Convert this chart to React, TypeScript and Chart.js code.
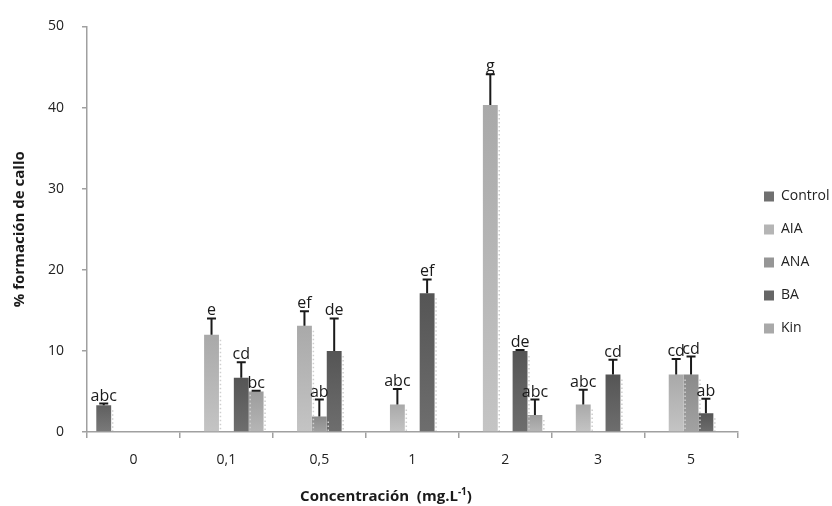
import React, { useEffect, useRef } from 'react';
import { Chart, registerables } from 'chart.js';

Chart.register(...registerables);

const categories = ['0', '0,1', '0,5', '1', '2', '3', '5'];
const seriesNames = ['Control', 'AIA', 'ANA', 'BA', 'Kin'];

const controlValues = [3.3, 0, 0, 0, 0, 0, 0];
const aiaValues = [0, 12.0, 13.1, 3.4, 40.3, 3.4, 7.1];
const anaValues = [0, 0, 1.9, 0, 0, 0, 7.1];
const baValues = [0, 6.7, 10.0, 17.1, 10.0, 7.1, 2.3];
const kinValues = [0, 5.0, 0, 0, 2.1, 0, 0];

const controlErrors = [0.2, 0, 0, 0, 0, 0, 0];
const aiaErrors = [0, 2.0, 1.8, 1.9, 3.8, 1.8, 1.9];
const anaErrors = [0, 0, 2.1, 0, 0, 0, 2.2];
const baErrors = [0, 1.9, 4.0, 1.7, 0.1, 1.8, 1.8];
const kinErrors = [0, 0.1, 0, 0, 1.9, 0, 0];

const controlLetters = ['abc', '', '', '', '', '', ''];
const aiaLetters = ['', 'e', 'ef', 'abc', 'g', 'abc', 'cd'];
const anaLetters = ['', '', 'ab', '', '', '', 'cd'];
const baLetters = ['', 'cd', 'de', 'ef', 'de', 'cd', 'ab'];
const kinLetters = ['', 'bc', '', '', 'abc', '', ''];

const yTickValues = [0, 10, 20, 30, 40, 50];

const seriesValues = [controlValues, aiaValues, anaValues, baValues, kinValues];
const seriesErrors = [controlErrors, aiaErrors, anaErrors, baErrors, kinErrors];
const seriesLetters = [controlLetters, aiaLetters, anaLetters, baLetters, kinLetters];
const topColors = ['#5f5f5f', '#a9a9a9', '#8a8a8a', '#555555', '#9c9c9c'];
const bottomColors = ['#7a7a7a', '#c4c4c4', '#a2a2a2', '#6e6e6e', '#b6b6b6'];
const legendColors = ['#707070', '#b5b5b5', '#969696', '#666666', '#a9a9a9'];

const FONT = "'Open Sans', 'DejaVu Sans', sans-serif";

const makeFill = (si: number) => (ctx: any) => {
  const chart = ctx.chart;
  const ys = chart.scales && chart.scales.y;
  if (ctx.type !== 'data' || !ys) return legendColors[si];
  const v = seriesValues[si][ctx.dataIndex] || 0;
  const top = ys.getPixelForValue(v);
  const base = ys.getPixelForValue(0);
  if (!isFinite(top) || !isFinite(base) || base - top < 1) return legendColors[si];
  const g = chart.ctx.createLinearGradient(0, top, 0, base);
  g.addColorStop(0, topColors[si]);
  g.addColorStop(1, bottomColors[si]);
  return g;
};

const shadowPlugin = {
  id: 'barShadowTexture',
  afterDatasetsDraw(chart: any) {
    const ctx = chart.ctx;
    const ys = chart.scales.y;
    ctx.save();
    ctx.strokeStyle = '#cfcfcf';
    ctx.lineWidth = 1.5;
    ctx.setLineDash([1.5, 2.5]);
    chart.data.datasets.forEach((ds: any, di: number) => {
      const meta = chart.getDatasetMeta(di);
      meta.data.forEach((bar: any, i: number) => {
        const v = seriesValues[di][i];
        if (!v) return;
        const xr = bar.x + bar.width / 2 + 1.5;
        const top = ys.getPixelForValue(v) + 5;
        const base = ys.getPixelForValue(0) - 1;
        if (base - top < 2) return;
        ctx.beginPath();
        ctx.moveTo(xr, top);
        ctx.lineTo(xr, base);
        ctx.stroke();
      });
    });
    ctx.restore();
  },
};

const errorBarPlugin = {
  id: 'errorBarsLetters',
  afterDatasetsDraw(chart: any) {
    const ctx = chart.ctx;
    const ys = chart.scales.y;
    ctx.save();
    chart.data.datasets.forEach((ds: any, di: number) => {
      const meta = chart.getDatasetMeta(di);
      meta.data.forEach((bar: any, i: number) => {
        const v = seriesValues[di][i];
        const e = seriesErrors[di][i];
        const lab = seriesLetters[di][i];
        if (!lab && !e) return;
        const x = bar.x;
        const yBar = ys.getPixelForValue(v);
        const yTop = ys.getPixelForValue(v + e);
        if (e > 0) {
          ctx.strokeStyle = '#1a1a1a';
          ctx.lineWidth = 2;
          ctx.beginPath();
          ctx.moveTo(x, yBar);
          ctx.lineTo(x, yTop);
          ctx.moveTo(x - 4.5, yTop);
          ctx.lineTo(x + 4.5, yTop);
          ctx.stroke();
        }
        if (lab) {
          ctx.fillStyle = '#1a1a1a';
          ctx.font = `16px ${FONT}`;
          ctx.textAlign = 'center';
          ctx.textBaseline = 'alphabetic';
          ctx.fillText(lab, x, yTop - 3);
        }
      });
    });
    ctx.restore();
  },
};

const xTitlePlugin = {
  id: 'xTitle',
  afterDraw(chart: any) {
    const ctx = chart.ctx;
    const main = 'Concentración  (mg.L';
    const sup = '-1';
    const end = ')';
    ctx.save();
    ctx.fillStyle = '#1a1a1a';
    ctx.textBaseline = 'alphabetic';
    ctx.textAlign = 'left';
    ctx.font = `bold 15px ${FONT}`;
    const w1 = ctx.measureText(main).width;
    const w3 = ctx.measureText(end).width;
    ctx.font = `bold 10px ${FONT}`;
    const w2 = ctx.measureText(sup).width;
    const total = w1 + w2 + w3;
    const cx = 386;
    const baseY = 501;
    let x = cx - total / 2;
    ctx.font = `bold 15px ${FONT}`;
    ctx.fillText(main, x, baseY);
    x += w1;
    ctx.font = `bold 10px ${FONT}`;
    ctx.fillText(sup, x, baseY - 6);
    x += w2;
    ctx.font = `bold 15px ${FONT}`;
    ctx.fillText(end, x, baseY);
    ctx.restore();
  },
};

const legendShiftPlugin = {
  id: 'legendShift',
  afterLayout(chart: any) {
    const lg = chart.legend;
    if (lg) {
      const shift = 764 - (lg.left + 19);
      lg.left += shift;
      lg.right += shift;
    }
  },
};

export default function App() {
  const canvasRef = useRef<HTMLCanvasElement | null>(null);

  useEffect(() => {
    const canvas = canvasRef.current;
    if (!canvas) return;
    const chart = new Chart(canvas, {
      type: 'bar',
      data: {
        labels: categories,
        datasets: seriesNames.map((name, si) => ({
          label: name,
          data: seriesValues[si],
          backgroundColor: makeFill(si),
          borderWidth: 0,
          categoryPercentage: 0.8,
          barPercentage: 1.0,
        })),
      },
      options: {
        responsive: false,
        animation: false,
        devicePixelRatio: 1,
        layout: { padding: { top: 19, left: 0, right: 0, bottom: 0 } },
        plugins: {
          legend: {
            position: 'right',
            align: 'center',
            labels: {
              boxWidth: 10,
              boxHeight: 10,
              padding: 19,
              color: '#222222',
              font: { family: FONT, size: 14 },
              generateLabels: () =>
                seriesNames.map((name, i) => ({
                  text: name,
                  fillStyle: legendColors[i],
                  strokeStyle: legendColors[i],
                  lineWidth: 0,
                  hidden: false,
                  datasetIndex: i,
                  fontColor: '#222222',
                })),
            },
          },
          tooltip: { enabled: false },
        },
        scales: {
          x: {
            afterFit: (s: any) => {
              s.height = 74;
            },
            grid: {
              display: true,
              drawOnChartArea: false,
              drawTicks: true,
              tickLength: 6,
              color: '#a0a0a0',
              lineWidth: 1.5,
              offset: true,
            },
            border: { color: '#a0a0a0', width: 1.5 },
            ticks: {
              color: '#222222',
              padding: 14,
              font: { family: FONT, size: 14 },
            },
          },
          y: {
            min: 0,
            max: 50,
            afterFit: (s: any) => {
              s.width = 87;
            },
            afterBuildTicks: (s: any) => {
              s.ticks = yTickValues.map((v) => ({ value: v }));
            },
            grid: {
              display: true,
              drawOnChartArea: false,
              drawTicks: true,
              tickLength: 5,
              color: '#a0a0a0',
              lineWidth: 1.5,
            },
            border: { color: '#a0a0a0', width: 1.5 },
            ticks: {
              color: '#222222',
              padding: 18,
              font: { family: FONT, size: 14 },
            },
            title: {
              display: true,
              text: '% formación de callo',
              color: '#1a1a1a',
              font: { family: FONT, size: 15, weight: 'bold' },
              padding: { top: 11, bottom: 0 },
            },
          },
        },
      },
      plugins: [shadowPlugin, errorBarPlugin, xTitlePlugin, legendShiftPlugin],
    } as any);
    return () => chart.destroy();
  }, []);

  return (
    <div style={{ position: 'fixed', left: 0, top: 0, width: 832, height: 506, background: '#ffffff' }}>
      <canvas ref={canvasRef} width={832} height={506} style={{ display: 'block' }} />
    </div>
  );
}
